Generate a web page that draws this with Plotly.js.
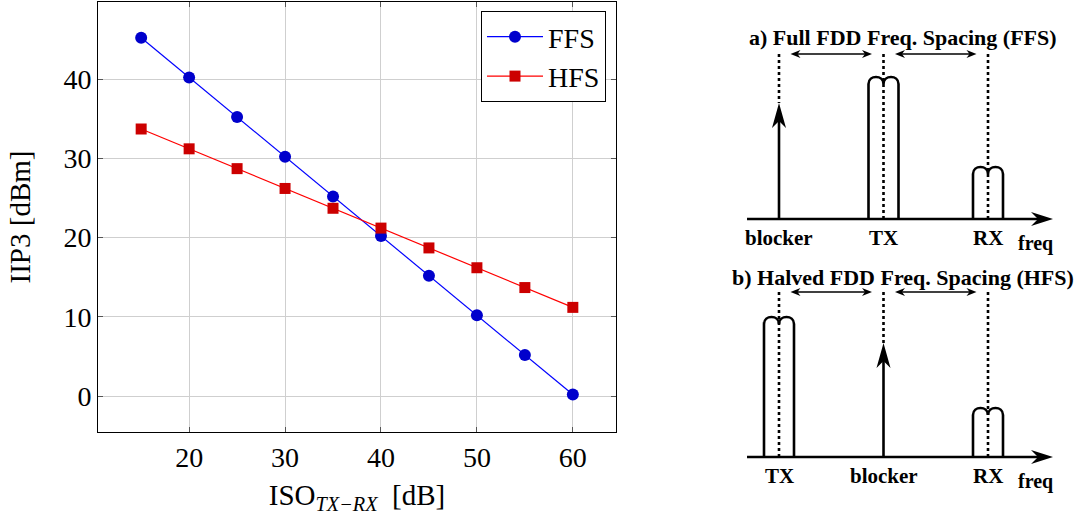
<!DOCTYPE html>
<html>
<head>
<meta charset="utf-8">
<script src="https://cdn.plot.ly/plotly-3.0.1.min.js"></script>
<style>html,body{margin:0;padding:0;background:#fff;}</style>
</head>
<body>
<div id="chart" style="width:1084px;height:515px;"></div>
<script>
// ---------- chart data ----------
const isoTxRx = [15, 20, 25, 30, 35, 40, 45, 50, 55, 60];
const iip3FFS = [45.2, 40.2, 35.2, 30.2, 25.2, 20.2, 15.2, 10.2, 5.2, 0.2];
const iip3HFS = [33.7, 31.2, 28.7, 26.2, 23.7, 21.2, 18.7, 16.2, 13.7, 11.2];
const xTickVals = [20, 30, 40, 50, 60];
const yTickVals = [0, 10, 20, 30, 40];
const seriesNames = ['FFS', 'HFS'];

// ---------- schematic data (frequency slots / relative levels) ----------
const panelTitles = ['a) Full FDD Freq. Spacing (FFS)', 'b) Halved FDD Freq. Spacing (HFS)'];
const panelLabels = [['blocker', 'TX', 'RX'], ['TX', 'blocker', 'RX']];
const panelKinds  = [['tone', 'band', 'band'], ['band', 'tone', 'band']];
const panelLevels = [[1.16, 1.42, 0.52], [1.40, 1.14, 0.49]];
const slotFreqs   = [0, 1, 2];
const freqLabel   = 'freq';

// ---------- geometry / style ----------
const PXX = 1 / 104.5, PXY = 1 / 100;   // schematic axis units per pixel
const serif = "'Liberation Serif', 'Times New Roman', serif";
const axisRefs = [{x: 'x2', y: 'y2'}, {x: 'x2', y: 'y3'}];

const traces = [
  {x: isoTxRx, y: iip3FFS, name: seriesNames[0], type: 'scatter', mode: 'lines+markers',
   line: {color: '#0000ff', width: 1.2},
   marker: {symbol: 'circle', size: 12, color: '#0000cc', line: {color: '#0000cc', width: 0}},
   xaxis: 'x', yaxis: 'y'},
  {x: isoTxRx, y: iip3HFS, name: seriesNames[1], type: 'scatter', mode: 'lines+markers',
   line: {color: '#ff0000', width: 1.2},
   marker: {symbol: 'square', size: 11, color: '#cc0000', line: {color: '#cc0000', width: 0}},
   xaxis: 'x', yaxis: 'y'},
  {x: slotFreqs, y: [0, 0, 0], type: 'scatter', mode: 'markers', marker: {opacity: 0},
   showlegend: false, hoverinfo: 'skip', xaxis: 'x2', yaxis: 'y2'},
  {x: slotFreqs, y: [0, 0, 0], type: 'scatter', mode: 'markers', marker: {opacity: 0},
   showlegend: false, hoverinfo: 'skip', xaxis: 'x2', yaxis: 'y3'}
];

const shapes = [];
const annotations = [];

function headPath(tx, ty, dir, len, hw, notch) {
  let p;
  if (dir === 'up') {
    p = [[tx, ty], [tx - hw * PXX, ty - len * PXY], [tx, ty - notch * PXY], [tx + hw * PXX, ty - len * PXY]];
  } else if (dir === 'right') {
    p = [[tx, ty], [tx - len * PXX, ty + hw * PXY], [tx - notch * PXX, ty], [tx - len * PXX, ty - hw * PXY]];
  } else {
    p = [[tx, ty], [tx + len * PXX, ty + hw * PXY], [tx + notch * PXX, ty], [tx + len * PXX, ty - hw * PXY]];
  }
  return 'M' + p.map(q => q[0] + ',' + q[1]).join(' L') + ' Z';
}

const axStart = -0.306, axEnd = 2.622, dotTop = 1.65, spanY = 1.65;
const lw = 2.6;

panelTitles.forEach((title, pi) => {
  const r = axisRefs[pi];
  const base = {xref: r.x, yref: r.y, layer: 'above'};
  shapes.push(Object.assign({type: 'line', x0: axStart, y0: 0, x1: axEnd - 14 * PXX, y1: 0,
    line: {color: '#000', width: lw}}, base));
  shapes.push(Object.assign({type: 'path', path: headPath(axEnd, 0, 'right', 22, 7, 15),
    fillcolor: '#000', line: {width: 0}}, base));
  slotFreqs.forEach((f, si) => {
    const kind = panelKinds[pi][si], lev = panelLevels[pi][si];
    if (kind === 'tone') {
      shapes.push(Object.assign({type: 'line', x0: f, y0: 0, x1: f, y1: lev - 14 * PXY,
        line: {color: '#000', width: lw}}, base));
      shapes.push(Object.assign({type: 'path', path: headPath(f, lev, 'up', 25, 7, 18),
        fillcolor: '#000', line: {width: 0}}, base));
      shapes.push(Object.assign({type: 'line', x0: f, y0: dotTop, x1: f, y1: lev,
        line: {color: '#000', width: lw, dash: '3px,3px'}}, base));
    } else {
      const w = 15 * PXX, ry = 7 * PXY, k = ry * 4 / 3, b = lev - ry;
      const path = `M${f - w},0 L${f - w},${b} C${f - w},${b + k} ${f},${b + k} ${f},${b} ` +
                   `C${f},${b + k} ${f + w},${b + k} ${f + w},${b} L${f + w},0`;
      shapes.push(Object.assign({type: 'path', path: path, line: {color: '#000', width: lw}}, base));
      shapes.push(Object.assign({type: 'line', x0: f, y0: dotTop, x1: f, y1: 0,
        line: {color: '#000', width: lw, dash: '3px,3px'}}, base));
    }
    annotations.push({xref: r.x, yref: r.y, x: f, y: -0.19, text: '<b>' + panelLabels[pi][si] + '</b>',
      showarrow: false, xanchor: 'center', yanchor: 'middle',
      font: {family: serif, size: 21, color: '#000'}});
  });
  for (let s = 0; s < slotFreqs.length - 1; s++) {
    const a = slotFreqs[s] + 0.11, c = slotFreqs[s + 1] - 0.11;
    shapes.push(Object.assign({type: 'line', x0: a + 6 * PXX, y0: spanY, x1: c - 6 * PXX, y1: spanY,
      line: {color: '#000', width: 1.6}}, base));
    shapes.push(Object.assign({type: 'path', path: headPath(a, spanY, 'left', 10, 4, 7),
      fillcolor: '#000', line: {width: 0}}, base));
    shapes.push(Object.assign({type: 'path', path: headPath(c, spanY, 'right', 10, 4, 7),
      fillcolor: '#000', line: {width: 0}}, base));
  }
  annotations.push({xref: r.x, yref: r.y, x: 1.19, y: pi === 0 ? 1.82 : 1.80, text: '<b>' + title + '</b>',
    showarrow: false, xanchor: 'center', yanchor: 'middle',
    font: {family: serif, size: 22, color: '#000'}});
  annotations.push({xref: r.x, yref: r.y, x: 2.45, y: -0.24, text: '<b>' + freqLabel + '</b>',
    showarrow: false, xanchor: 'center', yanchor: 'middle',
    font: {family: serif, size: 20, color: '#000'}});
});

const axisCommon = {
  showgrid: true, gridcolor: '#cfcfcf', gridwidth: 1,
  showline: true, linecolor: '#000', linewidth: 1, mirror: 'ticks',
  ticks: 'inside', ticklen: 5, tickcolor: '#555', tickwidth: 1,
  zeroline: false, automargin: false,
  tickfont: {family: serif, size: 28, color: '#000'}
};

const layout = {
  width: 1084, height: 515,
  margin: {l: 0, r: 0, t: 0, b: 0},
  paper_bgcolor: '#fff', plot_bgcolor: '#fff',
  font: {family: serif, color: '#000'},
  showlegend: true,
  legend: {x: 606 / 1084, xanchor: 'right', y: 1 - 11 / 515, yanchor: 'top',
    bordercolor: '#000', borderwidth: 1, bgcolor: '#fff', itemwidth: 56,
    font: {family: serif, size: 28, color: '#000'}},
  xaxis: Object.assign({}, axisCommon, {
    domain: [98 / 1084, 616 / 1084], range: [10.5, 64.5], tickvals: xTickVals, anchor: 'y',
    title: {text: 'ISO<sub><i>TX−RX</i></sub>  [dB]', font: {family: serif, size: 29, color: '#000'}}
  }),
  yaxis: Object.assign({}, axisCommon, {
    domain: [83 / 515, 513 / 515], range: [-4.52, 49.72], tickvals: yTickVals, anchor: 'x',
    title: {text: 'IIP3 [dBm]', font: {family: serif, size: 29, color: '#000'}}
  }),
  xaxis2: {domain: [730 / 1084, 1], range: [-0.4689, 2.9187], visible: false, anchor: 'y2', fixedrange: true},
  yaxis2: {domain: [265 / 515, 1], range: [-0.31, 2.19], visible: false, anchor: 'x2', fixedrange: true},
  yaxis3: {domain: [0, 265 / 515], range: [-0.58, 2.07], visible: false, anchor: 'x2', fixedrange: true},
  shapes: shapes,
  annotations: annotations
};

Plotly.newPlot('chart', traces, layout, {displayModeBar: false, staticPlot: true});
</script>
</body>
</html>
